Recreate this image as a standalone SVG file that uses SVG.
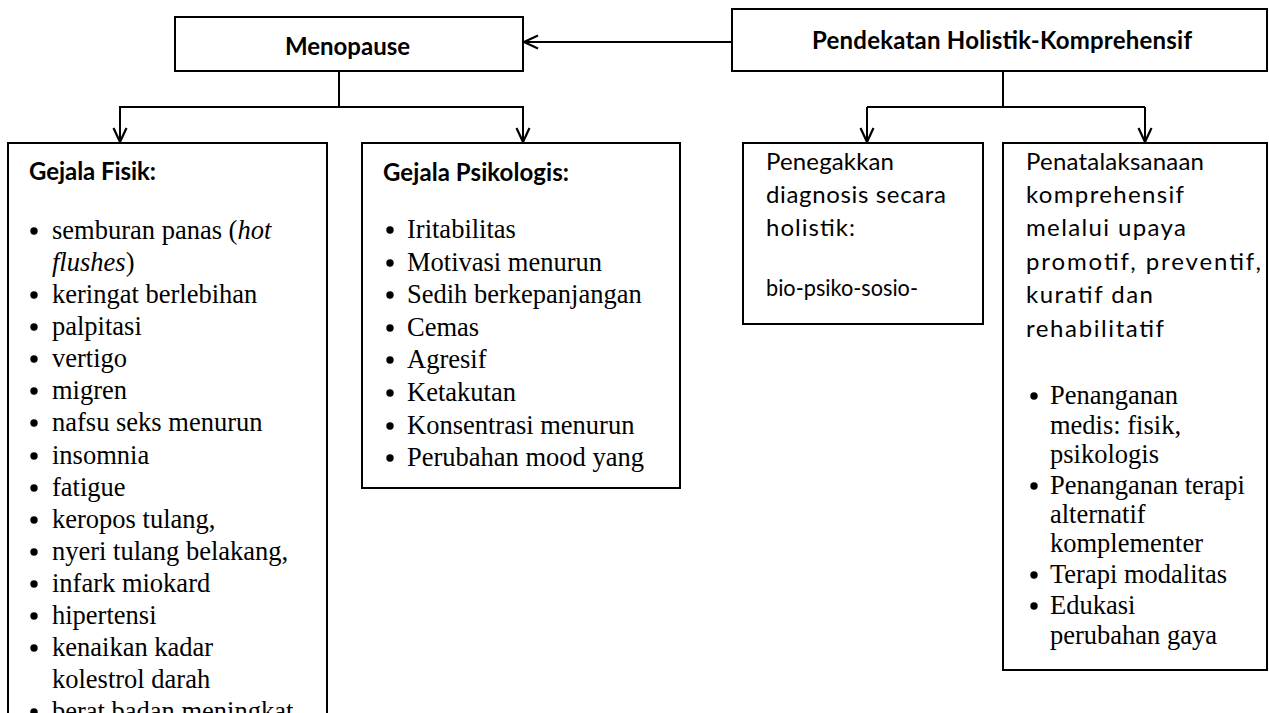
<svg xmlns="http://www.w3.org/2000/svg" width="1269" height="713" viewBox="0 0 1269 713">
<defs>
<marker id="arr" markerUnits="userSpaceOnUse" markerWidth="16" markerHeight="16" viewBox="0 0 16 16" refX="15" refY="8" orient="auto">
<path d="M1,1.5 L15,8 L1,14.5" fill="none" stroke="#000" stroke-width="2.2"/>
</marker>
<style>
.box{fill:#fff;stroke:#000;stroke-width:2}
.con{fill:none;stroke:#000;stroke-width:2}
.hd{font-family:Lato,"Liberation Sans",sans-serif;font-weight:bold;font-size:24px;fill:#000}
.sn{font-family:Lato,"Liberation Sans",sans-serif;font-size:24px;fill:#000}
.sf{font-family:"Liberation Serif","Times New Roman",serif;font-size:26.5px;fill:#000}
.bl circle{fill:#000}
</style>
</defs>
<rect width="1269" height="713" fill="#fff"/>

<g id="connectors">
<line class="con" x1="732" y1="42" x2="524" y2="42" marker-end="url(#arr)"/>
<polyline class="con" points="339,71 339,107"/>
<polyline class="con" points="120,143 120,107 523,107 523,143"/>
<line class="con" x1="120" y1="107" x2="120" y2="142" marker-end="url(#arr)"/>
<line class="con" x1="523" y1="107" x2="523" y2="142" marker-end="url(#arr)"/>
<polyline class="con" points="1003,71 1003,107"/>
<polyline class="con" points="867,107 1145,107"/>
<line class="con" x1="867" y1="107" x2="867" y2="142" marker-end="url(#arr)"/>
<line class="con" x1="1145" y1="107" x2="1145" y2="142" marker-end="url(#arr)"/>
</g>

<g id="menopause">
<rect class="box" x="175" y="17" width="348" height="54"/>
<text class="hd" x="285" y="55" textLength="125">Menopause</text>
</g>

<g id="pendekatan">
<rect class="box" x="732" y="9" width="535" height="62"/>
<text class="hd" x="812" y="49" textLength="380">Pendekatan Holistik-Komprehensif</text>
</g>

<g id="gejala-fisik">
<rect class="box" x="8" y="143" width="319" height="600"/>
<text class="hd" x="29" y="180" textLength="127">Gejala Fisik:</text>
<g class="bl">
<circle cx="34" cy="231" r="3.7"/>
<circle cx="34" cy="295" r="3.7"/>
<circle cx="34" cy="327" r="3.7"/>
<circle cx="34" cy="359" r="3.7"/>
<circle cx="34" cy="391" r="3.7"/>
<circle cx="34" cy="423" r="3.7"/>
<circle cx="34" cy="456" r="3.7"/>
<circle cx="34" cy="488" r="3.7"/>
<circle cx="34" cy="520" r="3.7"/>
<circle cx="34" cy="552" r="3.7"/>
<circle cx="34" cy="584" r="3.7"/>
<circle cx="34" cy="616" r="3.7"/>
<circle cx="34" cy="648" r="3.7"/>
<circle cx="34" cy="712" r="3.7"/>
</g>
<g class="sf">
<text x="52" y="239">semburan panas (<tspan font-style="italic">hot</tspan></text>
<text x="52" y="271"><tspan font-style="italic">flushes</tspan>)</text>
<text x="52" y="303">keringat berlebihan</text>
<text x="52" y="335">palpitasi</text>
<text x="52" y="367">vertigo</text>
<text x="52" y="399">migren</text>
<text x="52" y="431">nafsu seks menurun</text>
<text x="52" y="464">insomnia</text>
<text x="52" y="496">fatigue</text>
<text x="52" y="528">keropos tulang,</text>
<text x="52" y="560">nyeri tulang belakang,</text>
<text x="52" y="592">infark miokard</text>
<text x="52" y="624">hipertensi</text>
<text x="52" y="656">kenaikan kadar</text>
<text x="52" y="688">kolestrol darah</text>
<text x="52" y="720">berat badan meningkat</text>
</g>
</g>

<g id="gejala-psikologis">
<rect class="box" x="362" y="143" width="318" height="345"/>
<text class="hd" x="383" y="181" textLength="186">Gejala Psikologis:</text>
<g class="bl">
<circle cx="390" cy="230" r="3.7"/>
<circle cx="390" cy="263" r="3.7"/>
<circle cx="390" cy="295" r="3.7"/>
<circle cx="390" cy="328" r="3.7"/>
<circle cx="390" cy="360" r="3.7"/>
<circle cx="390" cy="393" r="3.7"/>
<circle cx="390" cy="426" r="3.7"/>
<circle cx="390" cy="458" r="3.7"/>
</g>
<g class="sf">
<text x="407" y="238">Iritabilitas</text>
<text x="407" y="271">Motivasi menurun</text>
<text x="407" y="303">Sedih berkepanjangan</text>
<text x="407" y="336">Cemas</text>
<text x="407" y="368">Agresif</text>
<text x="407" y="401">Ketakutan</text>
<text x="407" y="434">Konsentrasi menurun</text>
<text x="407" y="466">Perubahan mood yang</text>
</g>
</g>

<g id="penegakkan">
<rect class="box" x="743" y="143" width="240" height="181"/>
<g class="sn">
<text x="766" y="170" textLength="128">Penegakkan</text>
<text x="766" y="203" textLength="180">diagnosis secara</text>
<text x="766" y="236" textLength="89">holistik:</text>
<text x="766" y="296" textLength="152" lengthAdjust="spacingAndGlyphs">bio-psiko-sosio-</text>
</g>
</g>

<g id="penatalaksanaan">
<rect class="box" x="1003" y="143" width="264" height="527"/>
<g class="sn">
<text x="1026" y="170" textLength="178">Penatalaksanaan</text>
<text x="1026" y="203" textLength="158">komprehensif</text>
<text x="1026" y="236" textLength="160">melalui upaya</text>
<text x="1026" y="270" textLength="235">promotif, preventif,</text>
<text x="1026" y="303" textLength="127">kuratif dan</text>
<text x="1026" y="337" textLength="138">rehabilitatif</text>
</g>
<g class="bl">
<circle cx="1034" cy="396" r="3.7"/>
<circle cx="1034" cy="486" r="3.7"/>
<circle cx="1034" cy="575" r="3.7"/>
<circle cx="1034" cy="606" r="3.7"/>
</g>
<g class="sf">
<text x="1050" y="404">Penanganan</text>
<text x="1050" y="434">medis: fisik,</text>
<text x="1050" y="463">psikologis</text>
<text x="1050" y="494">Penanganan terapi</text>
<text x="1050" y="523">alternatif</text>
<text x="1050" y="552">komplementer</text>
<text x="1050" y="583">Terapi modalitas</text>
<text x="1050" y="614">Edukasi</text>
<text x="1050" y="644">perubahan gaya</text>
</g>
</g>
</svg>
